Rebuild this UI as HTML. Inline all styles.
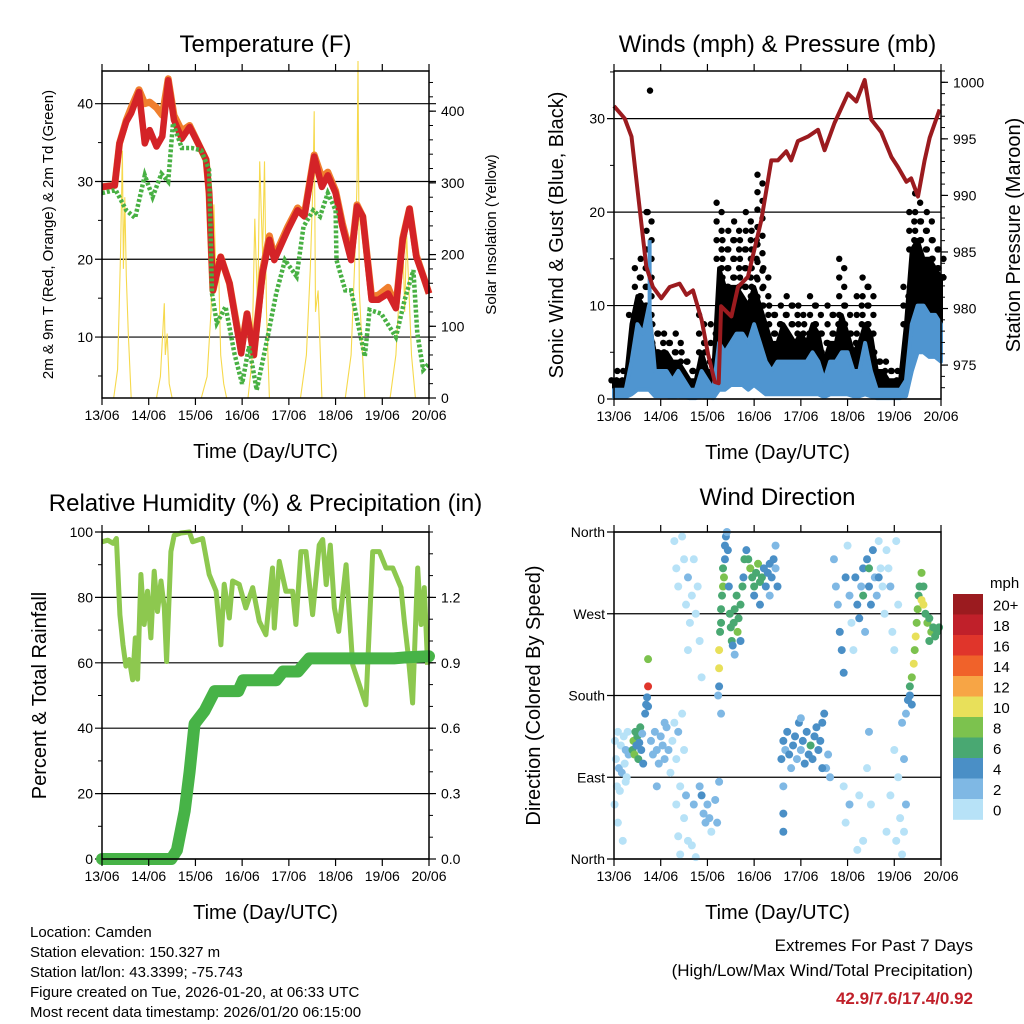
<!DOCTYPE html>
<html><head><meta charset="utf-8">
<style>
html,body{margin:0;padding:0;background:#fff;}
svg{display:block;font-family:"Liberation Sans",sans-serif;}
</style></head>
<body>
<svg id="chart" width="1024" height="1024" viewBox="0 0 1024 1024" xmlns="http://www.w3.org/2000/svg">
<rect width="1024" height="1024" fill="#fff"/>
<g id="bottomtext" font-size="15" fill="#000">
<text x="30" y="937">Location: Camden</text>
<text x="30" y="957">Station elevation: 150.327 m</text>
<text x="30" y="977">Station lat/lon: 43.3399; -75.743</text>
<text x="30" y="997">Figure created on Tue, 2026-01-20, at 06:33 UTC</text>
<text x="30" y="1017">Most recent data timestamp: 2026/01/20 06:15:00</text>
</g>
<g text-anchor="end">
<text x="973" y="951" font-size="17">Extremes For Past 7 Days</text>
<text x="973" y="976" font-size="17">(High/Low/Max Wind/Total Precipitation)</text>
<text x="973" y="1004" font-size="17" font-weight="bold" fill="#c0202a">42.9/7.6/17.4/0.92</text>
</g>
</svg>
<script>
// ---------- DATA ----------
const dayLabels = ["13/06","14/06","15/06","16/06","17/06","18/06","19/06","20/06"];
const tempHours = [0,6.5,9,12.5,15,19,22,24.5,28,31,34,37,41,45,49,53.5,55,57,61,65.5,71.5,74.5,78,82.5,86,88.5,95.5,100.5,104,109,113,116,120,123.5,128,131,134,138.5,142,147,151,154.5,158,161.5,165.5,168];
const temp2m = [29.3,29.5,34.9,37.7,38.8,41.5,34.9,36.6,34.5,35.8,43,37.9,35.5,37,35.1,32.8,28.5,16,20.3,16.9,7.9,13,7.7,18.2,22.5,19.9,23.8,26.3,25.5,33.2,29.3,30.8,28.5,24.2,19.9,26.8,25.5,14.8,14.8,15.6,13.7,22.5,26.5,20.3,17.5,15.6];
const temp9m = [29.3,29.5,34.9,37.9,39.5,41.8,40,40.2,39.5,38.5,43.2,38.5,36.5,37.2,35.1,32.8,28.5,16,20.3,16.9,8.3,13,7.7,18.6,23,20.3,24.2,26.6,25.8,33.4,30.5,31.2,28.8,24.6,20.3,27,25.5,15.2,15.4,16.4,13.9,22.7,26.5,20.5,17.5,15.6];
const dewHours = [0,7,12.5,17,22,26,30.5,34,36.5,41,46,51,55,56.5,59,63.5,68,72,75.5,79.5,85.5,89.5,94,100,103.5,108.5,112,116,120,120.5,125,128,135,137.5,143.5,151,155.5,160,162,165,168];
const dewPoint = [28.5,28.9,26.3,25.3,30.8,28,31,30,37.5,34.3,34.3,34,31.5,15.6,11.8,13.9,7.9,4,8.8,3.2,10.5,15.6,19.9,17.8,24.2,26.3,25.5,28.5,26.3,19.9,16,16,7.5,13.5,13,10,14.8,18.6,10.5,5.8,6.6];
const solarHours = [0,6,8,9.5,10.5,11,11.7,12.5,13.5,15,28,30,32,32.5,33.5,34.5,36,51,54,56,57.5,58.7,60,61,62.5,64,75,77,78.5,80,81,82.5,83.5,84.5,86,102,105,107,108.5,109,109.7,111,113,125,128,130,131,131.5,132.2,133.5,135,148,151,153,154.5,155.5,156.5,158,159,161];
const solarVals = [0,0,40,200,345,180,280,170,90,0,0,30,132,60,90,20,0,0,30,120,270,150,170,60,20,0,0,50,250,120,330,200,330,120,0,0,60,180,310,400,120,150,0,0,60,200,300,470,150,80,0,0,60,160,230,120,230,130,60,0];
const windHours = [0,3,6,9,12,15,18,21,24,27,30,33,36,39,42,45,48,51,54,57,60,63,66,69,72,75,78,81,84,87,90,93,96,99,102,105,108,111,114,117,120,123,126,129,132,135,138,141,144,147,150,153,156,159,162,165,168];
const windSpeed = [1,1,1,4,8,7,10,3,3,3,2,3,2,1,1,3,2,1,6,5,6,7,7,6,8,6,4,3,4,4,4,4,4,4,5,4,2,4,4,5,5,3,3,6,3,1,1,1,1,1,2,8,10,10,9,9,8];
const windLow = [0.2,0.2,0.2,0.5,1,1,1,0.3,0.3,0.3,0.2,0.3,0.2,0.1,0.1,0.3,0.2,0.1,1,1,1.5,1.5,1.5,1,1.5,1,0.5,0.5,0.5,0.5,0.5,0.5,0.5,0.5,0.5,0.5,0.2,0.5,0.5,0.5,0.5,0.3,0.3,0.5,0.3,0.1,0.1,0.1,0.1,0.1,0.3,3,5,5,4.5,4.5,4];
const gustDense = [2,2,2,8,11,10,8,5,5,5,4,4,3,2,2,5,3,3,14,12,12,12,11,10,12,10,8,6,6,8,7,6,7,6,8,7,4,6,6,9,7,5,6,8,7,3,3,2,2,2,8,16,17,15,15,14,13];
const gustSpeed = [2,3,3,9,14,15,20,8,7,7,6,7,5,4,3,9,5,8,21,17,18,19,17,20,18,24,14,10,9,10,11,10,10,8,11,10,7,10,9,15,10,7,11,13,12,5,4,4,3,3,12,20,22,19,20,17,16];
const gustOutlierHours = [18.5,17.3];
const gustOutlierVals = [33,20];
const pressHours = [0,5.5,9,12.3,16.6,20,24.3,28.6,33.7,37.2,40.6,45,48.3,51.8,53.8,55,60.3,63.7,68.8,75.7,80.8,84.2,88.5,91,94.5,99.6,104.8,108.2,113.3,120.2,124.5,128.8,132.2,137.3,142.5,145.9,150.2,152.7,156.2,159.6,162.2,167.3];
const pressure = [997.9,996.8,995.2,990.2,983.7,981.9,980.9,981.9,982.2,981.2,981.6,979,976,973.5,973.4,980.2,979.3,981.9,982.8,987.8,993.1,993.1,993.9,993.1,994.8,995.2,995.8,994,996.4,999,998.3,1000.2,996.7,995.6,993.4,992.5,991.2,991.5,989.9,993.1,995.1,997.6];
const rhHours = [0,3,5.7,7.4,9.2,10.8,12.3,14,15.7,17.1,18.3,20,21.7,23.4,25.1,26.8,28.5,30.3,32,33.2,35.4,37.1,40.6,44.9,46.6,51.7,55.1,58.6,61.1,62.8,65.4,67.1,70.5,73.9,77.4,80.8,84.2,87.6,88.5,91.1,94.5,97.9,99.6,102.2,104.8,108.2,111.6,113.4,115.2,117.3,119.4,121.6,125.4,128.8,132.2,135.6,139.1,142.5,145.9,149.4,153.6,155.3,157.1,159.6,162.2,163.9,165.6,167.3];
const rhVals = [97,97.5,96.5,98,74.7,65.5,59,61,54.8,67.6,55,87,71.7,81.9,67.6,88,75.7,85,76.8,60.4,94,99,99.7,100,97,98,87,81.9,65.5,84,73.7,85,84,76.8,83,72.7,68.6,89,70.6,91,81.9,81.9,71.7,94,94,74.7,96,97.7,83.9,96,76.8,69.6,90,59.4,53.3,47.2,94,94,89,89,83,72.7,63.5,47.7,89,71.7,83,59.4];
const rainHours = [0,35.6,38.5,42.5,45,47.6,52.7,57.9,70,72.5,89.5,93,100.7,104.5,106.5,150,156,168];
const rainVals = [0,0,0.04,0.22,0.4,0.62,0.68,0.77,0.77,0.82,0.82,0.86,0.86,0.9,0.92,0.92,0.925,0.93];
const dirHours = [0.5,1,1.5,2,2.5,3,3.5,4,5,5.5,6,6.5,7,7.5,0.3,2,4.5,6,
9.5,10,10.5,11,11.5,12,12.5,13,13.5,14,14.5,15,16,16.5,17,17.5,17.5,17.5,
19,20,21,22,23,24,25,26,27,28,29,30,31,32,33,34,35,36,22,26,
32,33,34,36,38,37,40,41,44,45,46,47,48,49,50,52,53,54,55,42,
31,32,33,35,36,37,38,39,40,41,42,43,44,45,38,
53.5,54,54,54,54.5,55,55,55.5,56,56,56.5,57,57,57.5,
59,59.5,60,60.5,61,61.5,62,63,63.5,64,65,66,66.5,67,68,58,58.5,62,65,
69,70,71,72,73,74,75,76,77,78,79,80,81,82,83,84,75,80,83,72,
86,87,88,89,90,91,92,93,94,95,96,97,98,99,100,101,102,103,104,105,106,107,108,109,110,111,87,87,87,96,107,
113,114,115,116,117,118,119,120,121,122,123,124,125,126,127,128,129,130,131,132,133,134,135,136,137,138,139,140,141,142,143,144,145,146,131,128,136,
118,119,121,125,126,128,130,131,132,140,142,144,145,146,147,148,149,150,151,150,149,148,
152,153,154,154.5,155,155.5,156,156.5,157,158,159,160,161,162,163,164,165,166,167,158,159,162,152,153];
const dirDegrees = [130,110,80,140,100,75,125,95,135,105,120,90,140,115,60,40,20,85,
120,130,115,140,125,135,110,128,145,120,138,105,160,170,178,190,168,220,
130,115,140,120,105,135,125,110,145,120,95,130,150,110,140,80,160,120,80,150,
60,25,5,45,20,70,15,60,80,70,50,40,60,45,30,65,40,85,160,2,
350,320,300,355,330,280,310,260,290,330,270,300,240,200,230,
180,190,210,230,250,260,275,290,300,320,310,330,345,355,
300,270,255,240,235,260,275,290,250,265,280,300,310,330,340,360,340,225,240,
330,320,310,300,315,325,305,310,320,300,315,325,310,330,320,300,280,290,345,290,
110,130,120,140,115,100,125,135,110,150,120,130,105,140,115,125,110,135,145,120,130,150,160,100,115,90,80,50,30,155,100,
330,300,280,250,230,205,310,345,290,260,230,310,280,265,300,320,250,330,300,280,340,310,290,350,320,300,270,340,320,300,250,230,350,280,320,290,310,
80,40,60,10,70,20,100,140,60,30,70,120,20,90,45,150,110,160,175,60,30,5,
190,200,215,230,245,260,275,290,300,285,280,270,260,265,250,255,245,250,255,315,300,240,180,170];
const dirSpeeds = [1,1,1,1,2,1,1,2,1,1,2,1,1,2,1,1,1,1,
6,8,8,6,4,6,7,4,6,5,3,4,4,4,5,16,4,8,
2,2,2,3,2,2,2,2,2,2,1,1,1,1,2,1,1,1,2,2,
1,1,1,1,1,3,1,2,3,4,3,2,3,2,1,2,2,2,2,1,
1,1,1,1,1,1,2,1,1,1,1,1,1,1,1,
3,4,10,10,6,6,6,7,9,6,8,5,4,4,
4,6,6,6,4,7,6,6,8,7,6,6,4,6,4,3,4,3,5,
6,8,6,6,7,9,6,6,4,4,4,4,4,4,3,4,4,3,3,4,
4,4,3,4,4,3,4,4,3,4,3,4,4,4,5,6,4,4,4,5,4,4,4,3,3,3,3,4,4,2,4,
2,2,3,4,4,4,4,1,2,1,1,4,4,4,3,4,3,4,5,4,5,2,2,1,1,1,1,1,1,2,1,1,1,1,6,6,4,
1,1,2,1,1,1,1,2,1,1,1,1,1,1,1,2,2,3,4,2,1,1,
6,8,10,9,10,8,8,7,6,10,10,7,8,6,8,6,7,6,7,8,7,6,4,4];
const speedBinLabels = ["0","2","4","6","8","10","12","14","16","18","20+"];
const speedColors = ["#b7e2f7","#7fb8e4","#4a8fc6","#49a872","#7cc24e","#e8e05a","#f7a545","#f0622a","#e0352b","#c0202a","#9b1b1f"];

// ---------- HELPERS ----------
const NS = "http://www.w3.org/2000/svg";
const svg = document.getElementById("chart");
function mk(tag, attrs, parent) {
  const e = document.createElementNS(NS, tag);
  for (const k in attrs) e.setAttribute(k, attrs[k]);
  (parent || svg).appendChild(e);
  return e;
}
function txt(parent, x, y, s, size, anchor, extra) {
  const t = mk("text", Object.assign({x:x, y:y, "font-size":size, "text-anchor":anchor||"middle"}, extra||{}), parent);
  t.textContent = s;
  return t;
}
function linScale(d0, d1, r0, r1) { return v => r0 + (v - d0) / (d1 - d0) * (r1 - r0); }
function pathFrom(xs, ys, sx, sy) {
  return xs.map((h, i) => (i ? "L" : "M") + sx(h).toFixed(1) + "," + sy(ys[i]).toFixed(1)).join("");
}
function bandPath(xs, hi, lo, sx, sy) {
  let d = pathFrom(xs, hi, sx, sy);
  for (let i = xs.length - 1; i >= 0; i--) d += "L" + sx(xs[i]).toFixed(1) + "," + sy(lo[i]).toFixed(1);
  return d + "Z";
}

function panel(o) {
  const g = mk("g", {});
  
  
  const sx = linScale(0, 168, o.x0, o.x1);
  const syL = linScale(o.lmin, o.lmax, o.y1, o.y0);
  o.lTicks.forEach(v => {
    const y = syL(v);
    const gl = mk("line", {x1:o.x0-7, x2:o.x1+(o.gridExt||0), y1:y, y2:y, stroke:"#000", "stroke-width":1.2}, g);
    
    
  });
  return {g, sx, syL};
}

function frameAndAxes(o, P, syR) {
  const g = P.g;
  const fr = mk("rect", {x:o.x0, y:o.y0, width:o.x1-o.x0, height:o.y1-o.y0, fill:"none", stroke:"#000", "stroke-width":1.5}, g);
  
  
  dayLabels.forEach((lab, i) => {
    const x = P.sx(i * 24);
    mk("line", {x1:x, x2:x, y1:o.y1, y2:o.y1+7, stroke:"#000", "stroke-width":1.2}, g);
    mk("line", {x1:x, x2:x, y1:o.y0, y2:o.y0-7, stroke:"#000", "stroke-width":1.2}, g);
    const t = txt(g, x, o.y1+22, lab, 14);
    
    
  });
  o.lTicks.forEach((v, i) => {
    const t = txt(g, o.x0-9, P.syL(v)+5, o.lLabels[i], 14, "end");
    
    
  });
  (o.lMinor||[]).forEach(v => mk("line", {x1:o.x0-4, x2:o.x0, y1:P.syL(v), y2:P.syL(v), stroke:"#000"}, g));
  if (syR) {
    o.rTicks.forEach((v, i) => {
      mk("line", {x1:o.x1, x2:o.x1+7, y1:syR(v), y2:syR(v), stroke:"#000", "stroke-width":1.2}, g);
      const t = txt(g, o.x1+12, syR(v)+5, o.rLabels[i], 14, "start");
      
      
    });
    (o.rMinor||[]).forEach(v => mk("line", {x1:o.x1, x2:o.x1+4, y1:syR(v), y2:syR(v), stroke:"#000"}, g));
  }
  const tt = txt(g, (o.x0+o.x1)/2, o.titleY, o.title, 24);
  
  
  const xt = txt(g, (o.x0+o.x1)/2, o.y1+60, "Time (Day/UTC)", 20);
  
  
  const cy = (o.y0+o.y1)/2;
  const lt = txt(g, o.lTitleX, cy, o.lTitle, o.lTitleSize, "middle", {transform:`rotate(-90 ${o.lTitleX} ${cy})`});
  
  
  if (o.rTitle) {
    const rt = txt(g, o.rTitleX, cy, o.rTitle, o.rTitleSize, "middle", {transform:`rotate(-90 ${o.rTitleX} ${cy})`});
    
    
  }
}
function range(a, b, s) { const r = []; for (let v = a; v <= b + 1e-9; v += s) r.push(+v.toFixed(3)); return r; }

// ---------- PANEL 1 ----------
{
  const o = {name:"temperature-panel", x0:102, x1:429, y0:71, y1:398, lmin:2.17, lmax:44.2,
    lTicks:[10,20,30,40], lLabels:["10","20","30","40"], lMinor:[5,15,25,35],
    rTicks:[0,100,200,300,400], rLabels:["0","100","200","300","400"], rMinor:range(20,440,20),
    title:"Temperature (F)", titleY:52, lTitle:"2m & 9m T (Red, Orange) & 2m Td (Green)", lTitleX:53, lTitleSize:15,
    rTitle:"Solar Insolation (Yellow)", rTitleX:496, rTitleSize:15, gridExt:7};
  const P = panel(o);
  const syR = linScale(0, 456, o.y1, o.y0);
  const sol = mk("path", {d:pathFrom(solarHours, solarVals, P.sx, syR), fill:"none", stroke:"#f6d94c", "stroke-width":1.1}, P.g);
  
  
  const l9 = mk("path", {d:pathFrom(tempHours, temp9m, P.sx, P.syL), fill:"none", stroke:"#f07f2e", "stroke-width":7, "stroke-linejoin":"round"}, P.g);
  
  
  const l2 = mk("path", {d:pathFrom(tempHours, temp2m, P.sx, P.syL), fill:"none", stroke:"#d42327", "stroke-width":6.5, "stroke-linejoin":"round"}, P.g);
  
  
  const dw = mk("path", {d:pathFrom(dewHours, dewPoint, P.sx, P.syL), fill:"none", stroke:"#48b043", "stroke-width":4.5, "stroke-dasharray":"3 2"}, P.g);
  
  
  frameAndAxes(o, P, syR);
}

// ---------- PANEL 2 ----------
{
  const o = {name:"winds-pressure-panel", x0:614, x1:941, y0:71, y1:399, lmin:0, lmax:35.1,
    lTicks:[0,10,20,30], lLabels:["0","10","20","30"], lMinor:[5,15,25,35],
    rTicks:[975,980,985,990,995,1000], rLabels:["975","980","985","990","995","1000"], rMinor:range(973,1001,1),
    title:"Winds (mph) & Pressure (mb)", titleY:52, lTitle:"Sonic Wind & Gust (Blue, Black)", lTitleX:563, lTitleSize:20,
    rTitle:"Station Pressure (Maroon)", rTitleX:1020, rTitleSize:20, gridExt:0};
  const P = panel(o);
  const syR = linScale(972.0, 1001.0, o.y1, o.y0);
  const ga = mk("path", {d:bandPath(windHours, gustDense, windSpeed, P.sx, P.syL), fill:"#000", stroke:"#000", "stroke-width":4, "stroke-linejoin":"round"}, P.g);
  
  
  // scattered gust dots between dense band and max gust
  windHours.forEach((h, i) => {
    const yTop = P.syL(gustSpeed[i]), yBot = P.syL(gustDense[i]);
    const n = Math.max(1, Math.round((yBot - yTop) / 9));
    for (let k = 0; k <= n; k++) {
      const xo = (k % 2 ? 2.5 : -2.5);
      const c = mk("circle", {cx:P.sx(h) + xo, cy:yTop + (yBot - yTop) * k / n, r:3.2, fill:"#000"}, P.g);
      
      
    }
  });
  gustOutlierHours.forEach((h, i) => {
    const c = mk("circle", {cx:P.sx(h), cy:P.syL(gustOutlierVals[i]), r:3.2, fill:"#000"}, P.g);
    
    
  });
  const wa = mk("path", {d:bandPath(windHours, windSpeed, windLow, P.sx, P.syL), fill:"#4f95d0", stroke:"#4f95d0", "stroke-width":4, "stroke-linejoin":"round"}, P.g);
  
  
  const spike = mk("line", {x1:P.sx(18.3), x2:P.sx(18.3), y1:P.syL(17), y2:P.syL(5), stroke:"#4f95d0", "stroke-width":4}, P.g);
  
  
  const pl = mk("path", {d:pathFrom(pressHours, pressure, P.sx, syR), fill:"none", stroke:"#9b1b1f", "stroke-width":4, "stroke-linejoin":"round"}, P.g);
  
  
  frameAndAxes(o, P, syR);
}

// ---------- PANEL 3 ----------
{
  const o = {name:"humidity-precip-panel", x0:102, x1:429, y0:532, y1:859, lmin:0, lmax:100,
    lTicks:[0,20,40,60,80,100], lLabels:["0","20","40","60","80","100"], lMinor:[10,30,50,70,90],
    rTicks:[0,0.3,0.6,0.9,1.2], rLabels:["0.0","0.3","0.6","0.9","1.2"], rMinor:range(0.1,1.5,0.1),
    title:"Relative Humidity (%) & Precipitation (in)", titleY:511, lTitle:"Percent & Total Rainfall", lTitleX:46, lTitleSize:20,
    rTitle:null, gridExt:0};
  const P = panel(o);
  const syR = linScale(0, 1.5, o.y1, o.y0);
  const rh = mk("path", {d:pathFrom(rhHours, rhVals, P.sx, P.syL), fill:"none", stroke:"#8dc84f", "stroke-width":5, "stroke-linejoin":"round"}, P.g);
  
  
  const rn = mk("path", {d:pathFrom(rainHours, rainVals, P.sx, syR), fill:"none", stroke:"#47b347", "stroke-width":12, "stroke-linejoin":"round", "stroke-linecap":"round"}, P.g);
  
  
  frameAndAxes(o, P, syR);
}

// ---------- PANEL 4 ----------
{
  const o = {name:"wind-direction-panel", x0:614, x1:941, y0:532, y1:859, lmin:0, lmax:360,
    lTicks:[0,90,180,270,360], lLabels:["North","East","South","West","North"], lMinor:[],
    title:"Wind Direction", titleY:505, lTitle:"Direction (Colored By Speed)", lTitleX:540, lTitleSize:20,
    rTitle:null, gridExt:0};
  const P = panel(o);
  dirHours.forEach((h, i) => {
    const bin = Math.min(10, Math.floor(dirSpeeds[i] / 2));
    const c = mk("circle", {cx:P.sx(h), cy:P.syL(dirDegrees[i]), r:4, fill:speedColors[bin]}, P.g);
    
    
  });
  frameAndAxes(o, P, null);
  const lg = mk("g", {});
  
  
  const t = txt(lg, 990, 588, "mph", 15, "start");
  
  
  const top = 594, h = 20.5;
  for (let k = 10; k >= 0; k--) {
    const y = top + (10 - k) * h;
    const r = mk("rect", {x:953, y:y, width:30, height:h+0.3, fill:speedColors[k]}, lg);
    
    
    const l = txt(lg, 993, y + h/2 + 6, speedBinLabels[k], 15, "start");
    
    
  }
}
</script>
</body></html>
